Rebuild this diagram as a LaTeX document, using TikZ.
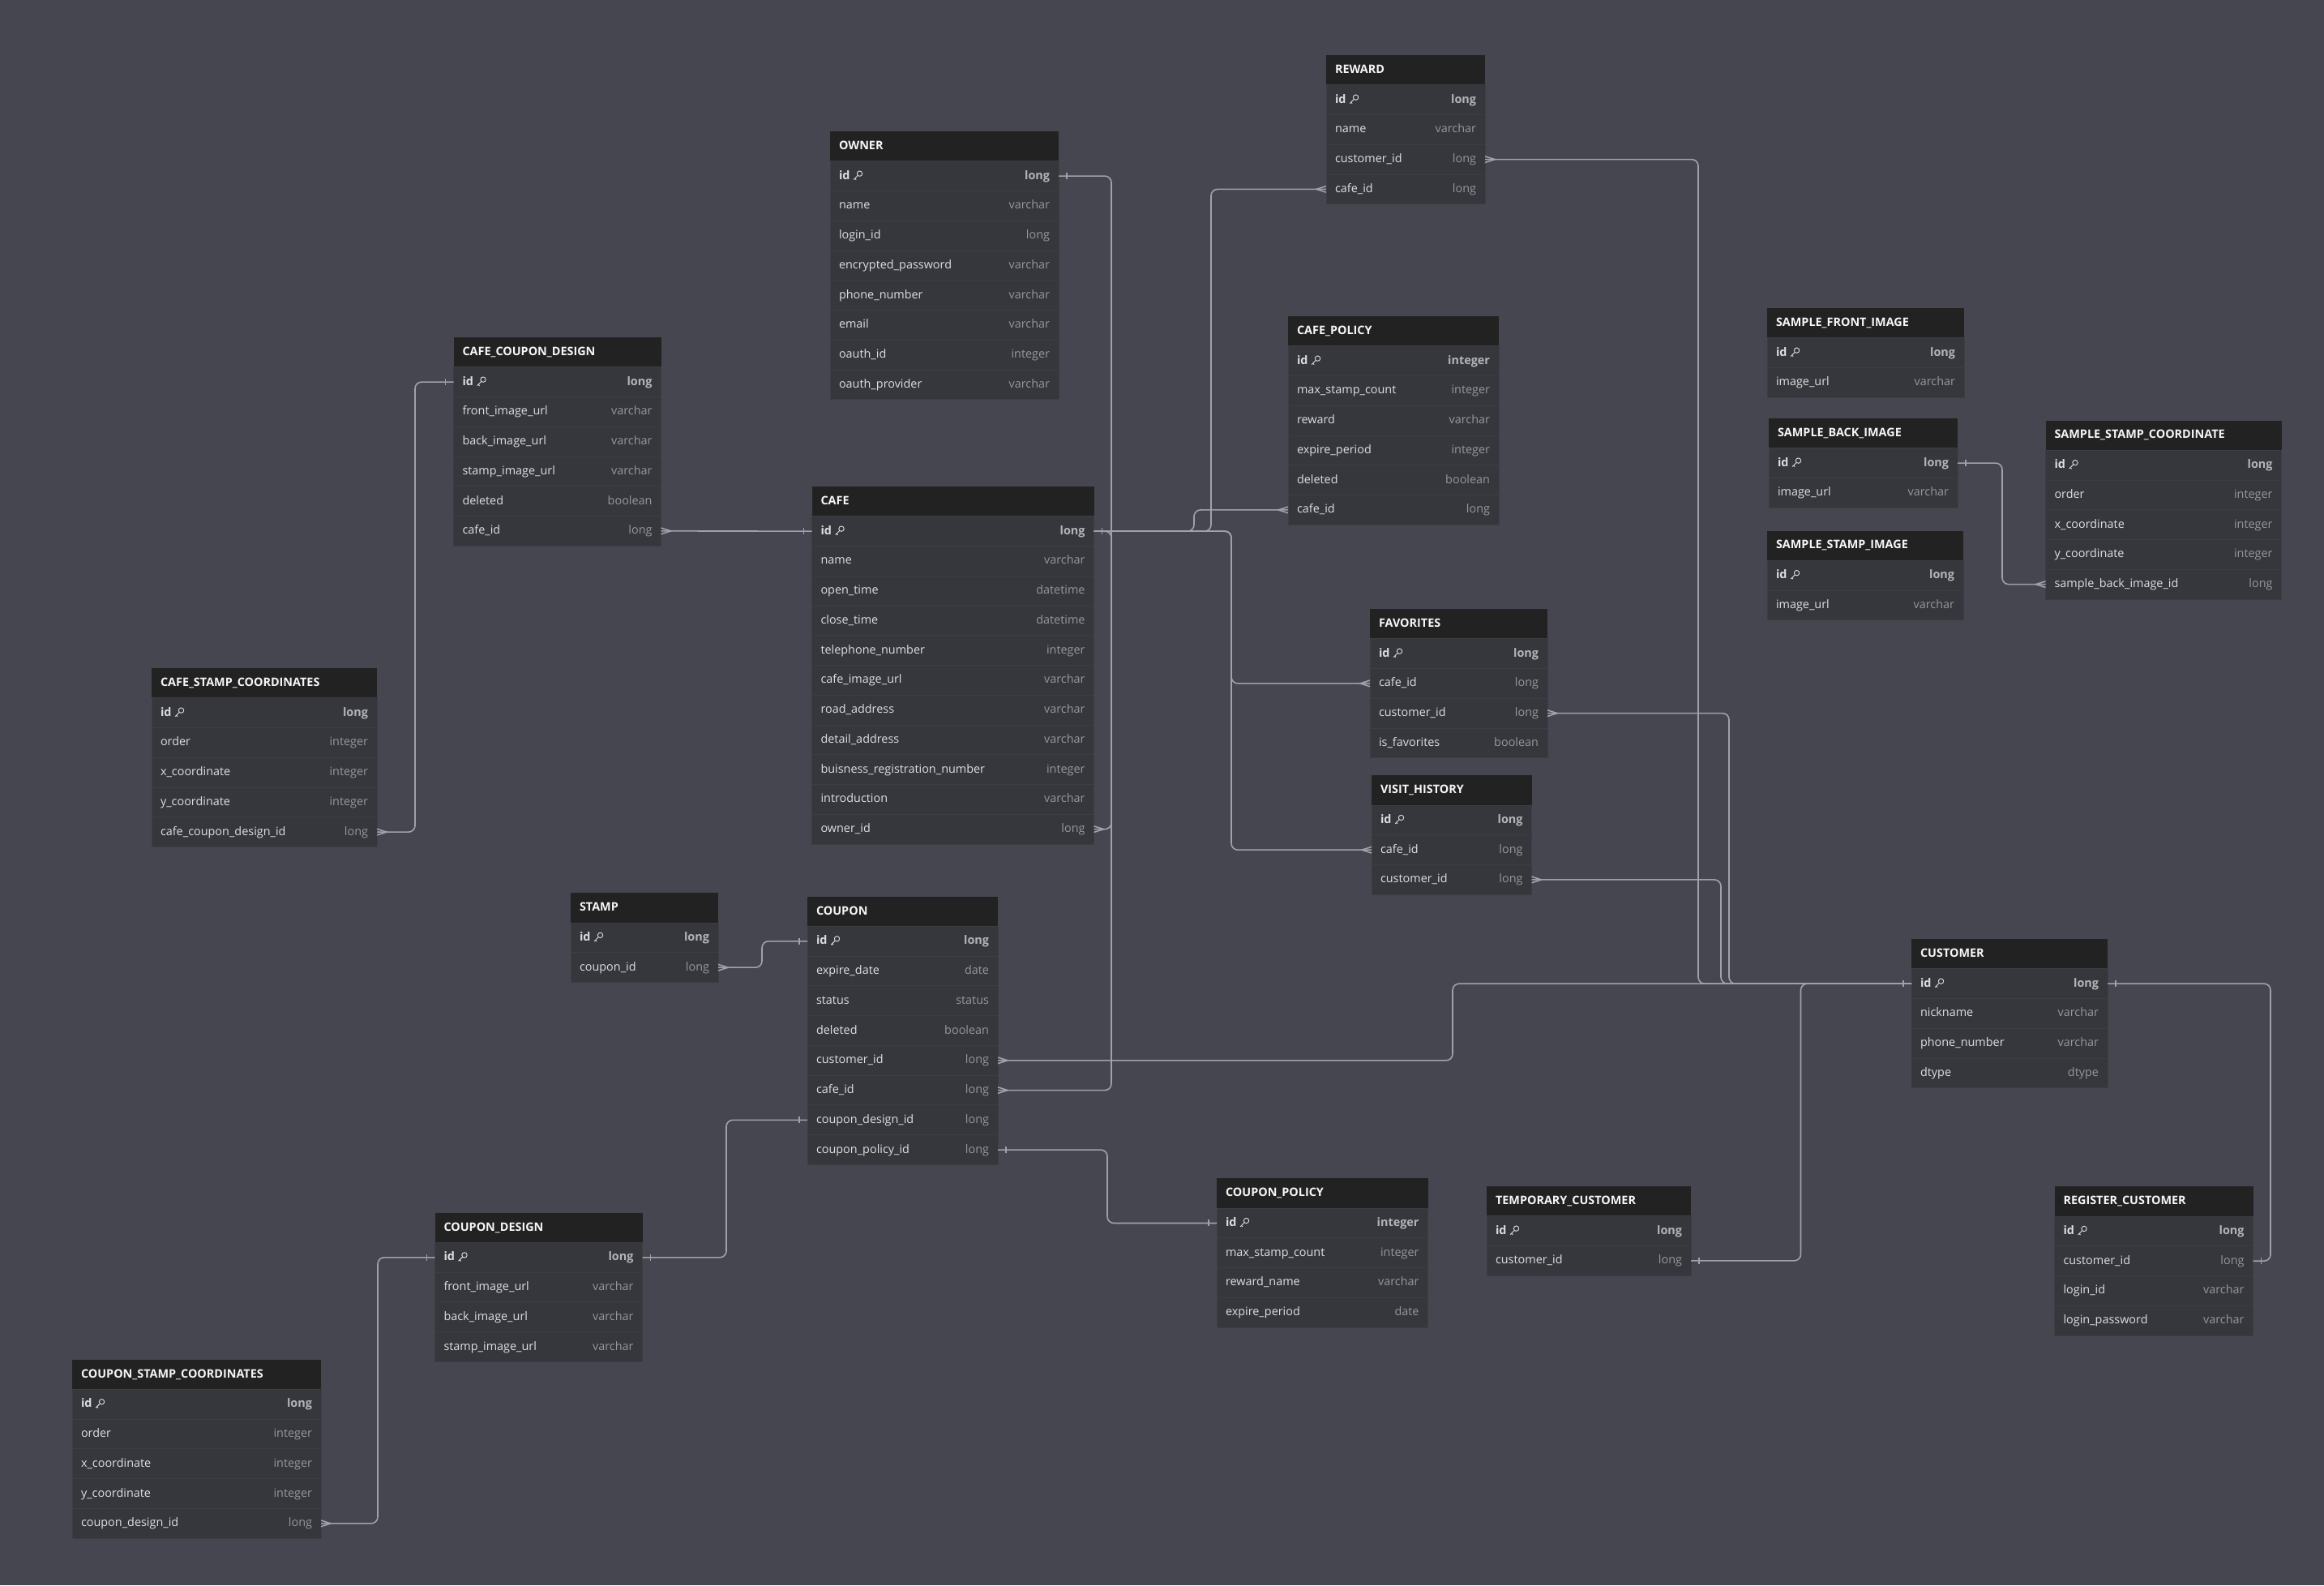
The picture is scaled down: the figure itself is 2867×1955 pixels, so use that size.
\documentclass[tikz,border=0pt]{standalone}
\usepackage{fontspec}
\setmainfont{Open Sans}
\usetikzlibrary{calc}
\definecolor{bgc}{RGB}{69,70,79}
\definecolor{hdrc}{RGB}{34,34,35}
\definecolor{bodyc}{RGB}{54,55,61}
\definecolor{sepc}{RGB}{61,62,68}
\definecolor{namec}{RGB}{222,222,224}
\definecolor{typec}{RGB}{150,150,155}
\definecolor{pktypec}{RGB}{180,180,184}
\definecolor{titlec}{RGB}{246,246,246}
\definecolor{linec}{RGB}{160,162,170}
\tikzset{
  tblhdr/.style={fill=hdrc, minimum height=18.375pt, inner sep=0pt, outer sep=0pt},
  tblrow/.style={fill=bodyc, draw=sepc, line width=0.5pt, minimum height=18.375pt, inner sep=0pt, outer sep=0pt},
  txt/.style={inner sep=0pt, outer sep=0pt, text height=5.4pt, text depth=1.4pt, font=\fontsize{7.2pt}{8.5pt}\selectfont},
  titletxt/.style={txt, text=titlec, font=\fontsize{7.2pt}{8.5pt}\selectfont\bfseries},
  fieldtxt/.style={txt, text=namec},
  typetxt/.style={txt, text=typec},
  pkfield/.style={txt, text=namec, font=\fontsize{7.2pt}{8.5pt}\selectfont\bfseries},
  pktype/.style={txt, text=pktypec, font=\fontsize{7.2pt}{8.5pt}\selectfont\bfseries},
  conn/.style={draw=linec, line width=0.8pt},
  route/.style={conn, rounded corners=4pt},
  keyline/.style={draw=namec, line width=0.45pt},
}
\newcommand\keyicon[1]{%
  \begin{scope}[shift={(#1)}, xshift=2pt]
    \draw[keyline] (4.0pt,1.5pt) circle (1.6pt);
    \draw[keyline] (2.87pt,0.37pt) -- (0.3pt,-2.2pt) (1.0pt,-1.5pt) -- (1.8pt,-2.3pt);
  \end{scope}}
\newcommand\ertable[6]{%
  \node[tblhdr, minimum width=#5*0.5pt, anchor=north west] (#1-h) at (#3,#4) {};
  \node[titletxt, anchor=west] (#1-t) at ([xshift=5.5pt]#1-h.west) {#2};
  \foreach \fn/\ft [count=\i from 0] in {#6} {%
    \node[tblrow, minimum width=#5*0.5pt, anchor=north west] (#1-\i) at (#3,{#4+36.75*(\i+1)}) {};
    \ifnum\i=0
      \node[pkfield, anchor=west] (#1-\i-n) at ([xshift=5.5pt]#1-\i.west) {\fn};
      \node[pktype, anchor=east] (#1-\i-y) at ([xshift=-5.5pt]#1-\i.east) {\ft};
      \keyicon{#1-\i-n.east}
    \else
      \node[fieldtxt, anchor=west] (#1-\i-n) at ([xshift=5.5pt]#1-\i.west) {\fn};
      \node[typetxt, anchor=east] (#1-\i-y) at ([xshift=-5.5pt]#1-\i.east) {\ft};
    \fi
  }%
}
\newcommand\oneR[1]{\draw[conn] ([xshift=5pt,yshift=2pt]#1) -- ([xshift=5pt,yshift=-2pt]#1);}
\newcommand\oneL[1]{\draw[conn] ([xshift=-5pt,yshift=2pt]#1) -- ([xshift=-5pt,yshift=-2pt]#1);}
\newcommand\manyR[1]{\draw[conn] ([yshift=1.9pt]#1) -- ([xshift=6pt]#1) -- ([yshift=-1.9pt]#1);}
\newcommand\manyL[1]{\draw[conn] ([yshift=1.9pt]#1) -- ([xshift=-6pt]#1) -- ([yshift=-1.9pt]#1);}
\begin{document}
\begin{tikzpicture}[x=0.5pt,y=-0.5pt]
\useasboundingbox (0,0) rectangle (2867,1955);
\fill[bgc] (0,0) rectangle (2867,1955);

\ertable{OWNER}{OWNER}{1024}{162}{282}{id/long, name/varchar, login\_id/long, encrypted\_password/varchar, phone\_number/varchar, email/varchar, oauth\_id/integer, oauth\_provider/varchar}
\ertable{CAFE}{CAFE}{1001.5}{600}{348}{id/long, name/varchar, open\_time/datetime, close\_time/datetime, telephone\_number/integer, cafe\_image\_url/varchar, road\_address/varchar, detail\_address/varchar, buisness\_registration\_number/integer, introduction/varchar, owner\_id/long}
\ertable{CCD}{CAFE\_COUPON\_DESIGN}{559.5}{416}{256}{id/long, front\_image\_url/varchar, back\_image\_url/varchar, stamp\_image\_url/varchar, deleted/boolean, cafe\_id/long}
\ertable{CSC}{CAFE\_STAMP\_COORDINATES}{187}{824}{278}{id/long, order/integer, x\_coordinate/integer, y\_coordinate/integer, cafe\_coupon\_design\_id/long}
\ertable{REWARD}{REWARD}{1636}{68}{196}{id/long, name/varchar, customer\_id/long, cafe\_id/long}
\ertable{CPOLI}{CAFE\_POLICY}{1589}{390}{260}{id/integer, max\_stamp\_count/integer, reward/varchar, expire\_period/integer, deleted/boolean, cafe\_id/long}
\ertable{SFI}{SAMPLE\_FRONT\_IMAGE}{2180}{380}{243}{id/long, image\_url/varchar}
\ertable{SBI}{SAMPLE\_BACK\_IMAGE}{2182}{516}{233}{id/long, image\_url/varchar}
\ertable{SSI}{SAMPLE\_STAMP\_IMAGE}{2180}{654.5}{242}{id/long, image\_url/varchar}
\ertable{SSC}{SAMPLE\_STAMP\_COORDINATE}{2523.5}{518.5}{291}{id/long, order/integer, x\_coordinate/integer, y\_coordinate/integer, sample\_back\_image\_id/long}
\ertable{FAV}{FAVORITES}{1690}{751}{219}{id/long, cafe\_id/long, customer\_id/long, is\_favorites/boolean}
\ertable{VH}{VISIT\_HISTORY}{1692}{956.3}{197.5}{id/long, cafe\_id/long, customer\_id/long}
\ertable{CUST}{CUSTOMER}{2358}{1158}{242}{id/long, nickname/varchar, phone\_number/varchar, dtype/dtype}
\ertable{REG}{REGISTER\_CUSTOMER}{2534.5}{1463.3}{245}{id/long, customer\_id/long, login\_id/varchar, login\_password/varchar}
\ertable{STAMP}{STAMP}{704}{1101.3}{182}{id/long, coupon\_id/long}
\ertable{COUPON}{COUPON}{996}{1105.7}{235}{id/long, expire\_date/date, status/status, deleted/boolean, customer\_id/long, cafe\_id/long, coupon\_design\_id/long, coupon\_policy\_id/long}
\ertable{COUPPOL}{COUPON\_POLICY}{1501}{1453.3}{260.5}{id/integer, max\_stamp\_count/integer, reward\_name/varchar, expire\_period/date}
\ertable{TEMP}{TEMPORARY\_CUSTOMER}{1834}{1463}{252}{id/long, customer\_id/long}
\ertable{CD}{COUPON\_DESIGN}{536.5}{1495.7}{256}{id/long, front\_image\_url/varchar, back\_image\_url/varchar, stamp\_image\_url/varchar}
\ertable{CSTC}{COUPON\_STAMP\_COORDINATES}{89}{1676.7}{307}{id/long, order/integer, x\_coordinate/integer, y\_coordinate/integer, coupon\_design\_id/long}

% waypoints
\coordinate (wOwner) at (1371,0);
\coordinate (wPol) at (1473,0);
\coordinate (wRew) at (1494,0);
\coordinate (wFav) at (1519,0);
\coordinate (wCsc) at (512,0);
\coordinate (wRC) at (2095,0);
\coordinate (wVC) at (2123,0);
\coordinate (wFC) at (2133,0);
\coordinate (wCC) at (1792,0);
\coordinate (wTC) at (2221.5,0);
\coordinate (wReg) at (2801,0);
\coordinate (wSt) at (940,0);
\coordinate (wCD) at (896,0);
\coordinate (wCP) at (1366,0);
\coordinate (wCs2) at (466,0);
\coordinate (wSam) at (2470,0);

% connectors
\draw[route] (OWNER-0.east) -- (wOwner |- OWNER-0.east) -- (wOwner |- CAFE-10.east) -- (CAFE-10.east);
\draw[route] (CAFE-0.east) -- (wOwner |- CAFE-0.east) -- (wOwner |- COUPON-5.east) -- (COUPON-5.east);
\draw[route] (CAFE-0.east) -- (wPol |- CAFE-0.east) -- (wPol |- CPOLI-5.west) -- (CPOLI-5.west);
\draw[route] (CAFE-0.east) -- (wRew |- CAFE-0.east) -- (wRew |- REWARD-3.west) -- (REWARD-3.west);
\draw[route] (CAFE-0.east) -- (wFav |- CAFE-0.east) -- (wFav |- FAV-1.west) -- (FAV-1.west);
\draw[route] (CAFE-0.east) -- (wFav |- CAFE-0.east) -- (wFav |- VH-1.west) -- (VH-1.west);
\draw[conn] (CCD-5.east) -- (CAFE-0.west);
\draw[route] (CSC-4.east) -- (wCsc |- CSC-4.east) -- (wCsc |- CCD-0.west) -- (CCD-0.west);
\draw[route] (REWARD-2.east) -- (wRC |- REWARD-2.east) -- (wRC |- CUST-0.west) -- (CUST-0.west);
\draw[route] (FAV-2.east) -- (wFC |- FAV-2.east) -- (wFC |- CUST-0.west) -- (CUST-0.west);
\draw[route] (VH-2.east) -- (wVC |- VH-2.east) -- (wVC |- CUST-0.west) -- (CUST-0.west);
\draw[route] (COUPON-4.east) -- (wCC |- COUPON-4.east) -- (wCC |- CUST-0.west) -- (CUST-0.west);
\draw[route] (TEMP-1.east) -- (wTC |- TEMP-1.east) -- (wTC |- CUST-0.west) -- (CUST-0.west);
\draw[route] (CUST-0.east) -- (wReg |- CUST-0.east) -- (wReg |- REG-1.east) -- (REG-1.east);
\draw[route] (STAMP-1.east) -- (wSt |- STAMP-1.east) -- (wSt |- COUPON-0.west) -- (COUPON-0.west);
\draw[route] (COUPON-6.west) -- (wCD |- COUPON-6.west) -- (wCD |- CD-0.east) -- (CD-0.east);
\draw[route] (COUPON-7.east) -- (wCP |- COUPON-7.east) -- (wCP |- COUPPOL-0.west) -- (COUPPOL-0.west);
\draw[route] (CSTC-4.east) -- (wCs2 |- CSTC-4.east) -- (wCs2 |- CD-0.west) -- (CD-0.west);
\draw[route] (SBI-0.east) -- (wSam |- SBI-0.east) -- (wSam |- SSC-4.west) -- (SSC-4.west);

% markers
\oneR{OWNER-0.east} \manyR{CAFE-10.east}
\oneR{CAFE-0.east} \manyR{COUPON-5.east}
\manyL{CPOLI-5.west} \manyL{REWARD-3.west} \manyL{FAV-1.west} \manyL{VH-1.west}
\manyR{CCD-5.east} \oneL{CAFE-0.west}
\manyR{CSC-4.east} \oneL{CCD-0.west}
\manyR{REWARD-2.east} \manyR{FAV-2.east} \manyR{VH-2.east} \manyR{COUPON-4.east}
\oneR{TEMP-1.east} \oneL{CUST-0.west}
\oneR{CUST-0.east} \oneR{REG-1.east}
\manyR{STAMP-1.east} \oneL{COUPON-0.west}
\oneL{COUPON-6.west} \oneR{CD-0.east}
\oneR{COUPON-7.east} \oneL{COUPPOL-0.west}
\manyR{CSTC-4.east} \oneL{CD-0.west}
\oneR{SBI-0.east} \manyL{SSC-4.west}
\end{tikzpicture}
\end{document}
